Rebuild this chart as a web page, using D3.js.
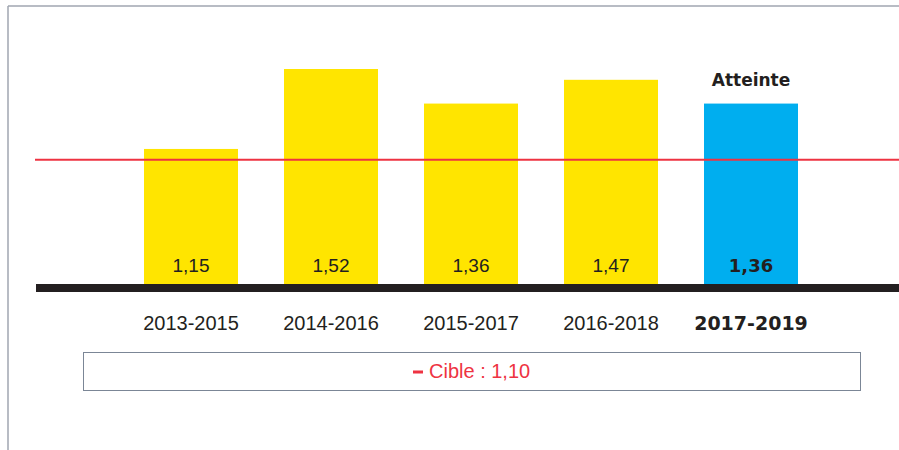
<!DOCTYPE html>
<html>
<head>
<meta charset="utf-8">
<script src="https://cdn.jsdelivr.net/npm/d3@7"></script>
<style>
  html, body { margin: 0; padding: 0; background: #fff; }
  svg { display: block; }
</style>
</head>
<body>
<svg id="chart" width="899" height="450"></svg>
<script>
// Chart data
const periods = ["2013-2015", "2014-2016", "2015-2017", "2016-2018", "2017-2019"];
const values = [1.15, 1.52, 1.36, 1.47, 1.36];
const valueLabels = ["1,15", "1,52", "1,36", "1,47", "1,36"];
const target = 1.10;
const targetLabel = "Cible : 1,10";
const highlightLabel = "Atteinte";

const svg = d3.select("#chart");
const width = 899;
const height = 450;

const yellow = "#ffe500";
const blue = "#00aeef";
const ink = "#231f20";
const red = "#ee3342";

// Frame lines (top + left)
svg.append("line")
  .attr("x1", 8).attr("x2", width)
  .attr("y1", 6).attr("y2", 6)
  .attr("stroke", "#a0a6b1").attr("stroke-width", 1.5);
svg.append("line")
  .attr("x1", 8).attr("x2", 8)
  .attr("y1", 6).attr("y2", height)
  .attr("stroke", "#a0a6b1").attr("stroke-width", 1.5);

// Scales
const x = d3.scaleBand()
  .domain(periods)
  .range([121, 821])
  .paddingInner(46 / 140)
  .paddingOuter(23 / 140);

// axis does not start at zero in the original
const y = d3.scaleLinear()
  .domain([0.525, 1.52])
  .range([284, 69]);

const last = periods.length - 1;

// Bars
svg.append("g").selectAll("rect")
  .data(periods)
  .enter()
  .append("rect")
  .attr("x", d => x(d))
  .attr("y", (d, i) => y(values[i]))
  .attr("width", x.bandwidth())
  .attr("height", (d, i) => y(y.domain()[0]) - y(values[i]))
  .attr("fill", (d, i) => i === last ? blue : yellow);

// Target line
svg.append("line")
  .attr("x1", 35).attr("x2", width)
  .attr("y1", y(target)).attr("y2", y(target))
  .attr("stroke", red).attr("stroke-width", 2);

// Baseline
svg.append("rect")
  .attr("x", 36).attr("y", 284)
  .attr("width", width - 36).attr("height", 8)
  .attr("fill", ink);

// Value labels inside bars
svg.append("g").selectAll("text")
  .data(periods)
  .enter()
  .append("text")
  .attr("x", d => x(d) + x.bandwidth() / 2)
  .attr("y", 272)
  .attr("text-anchor", "middle")
  .attr("fill", ink)
  .style("font-family", (d, i) => i === last ? "'DejaVu Sans'" : "'Liberation Sans', Arial")
  .style("font-weight", (d, i) => i === last ? "bold" : "normal")
  .style("font-size", (d, i) => i === last ? "18px" : "19px")
  .text((d, i) => valueLabels[i]);

// Category labels
svg.append("g").selectAll("text")
  .data(periods)
  .enter()
  .append("text")
  .attr("x", d => x(d) + x.bandwidth() / 2)
  .attr("y", 330)
  .attr("text-anchor", "middle")
  .attr("fill", ink)
  .style("font-family", (d, i) => i === last ? "'DejaVu Sans'" : "'Liberation Sans', Arial")
  .style("font-weight", (d, i) => i === last ? "bold" : "normal")
  .style("font-size", (d, i) => i === last ? "19px" : "20px")
  .text(d => d);

// "Atteinte" above the highlighted bar
svg.append("text")
  .attr("x", x(periods[last]) + x.bandwidth() / 2)
  .attr("y", 86)
  .attr("text-anchor", "middle")
  .attr("fill", ink)
  .style("font-family", "'DejaVu Sans'")
  .style("font-weight", "bold")
  .style("font-size", "17px")
  .text(highlightLabel);

// Legend box
svg.append("rect")
  .attr("x", 83.5).attr("y", 352.5)
  .attr("width", 777).attr("height", 38)
  .attr("fill", "none")
  .attr("stroke", "#7b8696").attr("stroke-width", 1);

svg.append("rect")
  .attr("x", 413).attr("y", 370.5)
  .attr("width", 10).attr("height", 3)
  .attr("fill", red);

svg.append("text")
  .attr("x", 429)
  .attr("y", 378)
  .attr("fill", red)
  .style("font-family", "'Liberation Sans', Arial")
  .style("font-size", "20px")
  .text(targetLabel);
</script>
</body>
</html>
